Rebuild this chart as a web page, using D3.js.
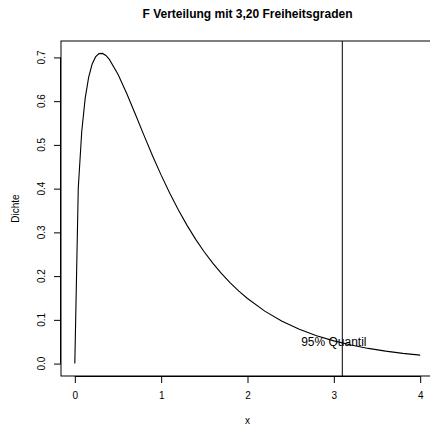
<!DOCTYPE html>
<html><head><meta charset="utf-8">
<script src="https://cdn.jsdelivr.net/npm/d3@7"></script>
<style>body{margin:0;background:#fff}svg{display:block;font-family:"Liberation Sans",Arial,sans-serif}</style>
</head><body>
<script>
const xs = [0,0.04,0.08,0.12,0.16,0.2,0.24,0.28,0.32,0.36,0.4,0.5,0.6,0.7,0.8,0.9,1.0,1.1,1.2,1.3,1.4,1.5,1.6,1.7,1.8,1.9,2.0,2.2,2.4,2.6,2.8,3.0,3.2,3.4,3.6,3.8,4.0];
const dens = [0,0.4013,0.5301,0.6065,0.6546,0.6843,0.7012,0.7087,0.7092,0.7045,0.6956,0.6617,0.6180,0.5705,0.5223,0.4754,0.4309,0.3893,0.3510,0.3160,0.2841,0.2552,0.2291,0.2057,0.1846,0.1658,0.1488,0.1200,0.0970,0.0786,0.0638,0.0519,0.0424,0.0347,0.0285,0.0234,0.0193];
const xTicks = [0,1,2,3,4];
const yTicks = [0.0,0.1,0.2,0.3,0.4,0.5,0.6,0.7];
const quantile = 3.098;
const labelText = "95% Quantil";
const labelPos = [3, 0.05];
const title = "F Verteilung mit 3,20 Freiheitsgraden";

const W=430,H=427;
const L=61,T=41,R=434,B=376;
const svg=d3.select("body").append("svg").attr("width",W).attr("height",H);
const xExt=0.04*4, yMax=d3.max(dens), yExt=0.04*yMax;
const x=d3.scaleLinear().domain([-xExt,4+xExt]).range([L,R]);
const y=d3.scaleLinear().domain([-yExt,yMax+yExt]).range([B,T]);

svg.append("path").datum(xs.map((v,i)=>[v,dens[i]]))
  .attr("fill","none").attr("stroke","#000").attr("stroke-width",1.1)
  .attr("d",d3.line().x(d=>x(d[0])).y(d=>y(d[1])).curve(d3.curveLinear));

svg.append("line").attr("x1",x(quantile)).attr("x2",x(quantile)).attr("y1",T).attr("y2",B).attr("stroke","#000").attr("stroke-width",1);
svg.append("text").attr("x",x(labelPos[0])).attr("y",y(labelPos[1])).attr("dy","0.35em").attr("text-anchor","middle").attr("font-size",12).text(labelText);

svg.append("rect").attr("x",L).attr("y",T).attr("width",R-L).attr("height",B-T).attr("fill","none").attr("stroke","#000").attr("stroke-width",1);

const xa=svg.append("g").attr("transform",`translate(0,${B})`).call(d3.axisBottom(x).tickValues(xTicks).tickFormat(d3.format("d")).tickSize(7).tickPadding(9));
xa.select(".domain").attr("d",`M${x(0)},0.5H${x(4)}`);
xa.selectAll("text").attr("font-size",10).attr("font-family","Liberation Sans, Arial, sans-serif");

const ya=svg.append("g").attr("transform",`translate(${L},0)`).call(d3.axisLeft(y).tickValues(yTicks).tickFormat(d3.format(".1f")).tickSize(7));
ya.select(".domain").attr("d",`M-0.5,${y(0)}V${y(0.7)}`);
ya.selectAll("text").attr("font-size",10).attr("font-family","Liberation Sans, Arial, sans-serif")
  .attr("transform",function(d){return `translate(-20,${y(d)}) rotate(-90)`;}).attr("x",0).attr("y",0).attr("dy","0.35em").attr("text-anchor","middle");
ya.selectAll(".tick").attr("transform",null);
ya.selectAll(".tick line").attr("transform",d=>`translate(0,${y(d)+0.5})`);

svg.append("text").attr("x",(L+R)/2).attr("y",18).attr("text-anchor","middle").attr("font-weight","bold").attr("font-size",12).text(title);
svg.append("text").attr("x",(L+R)/2).attr("y",424).attr("text-anchor","middle").attr("font-size",10).text("x");
svg.append("text").attr("transform",`translate(15,${(T+B)/2}) rotate(-90)`).attr("text-anchor","middle").attr("dy","0.35em").attr("font-size",10).text("Dichte");
</script>
</body></html>
